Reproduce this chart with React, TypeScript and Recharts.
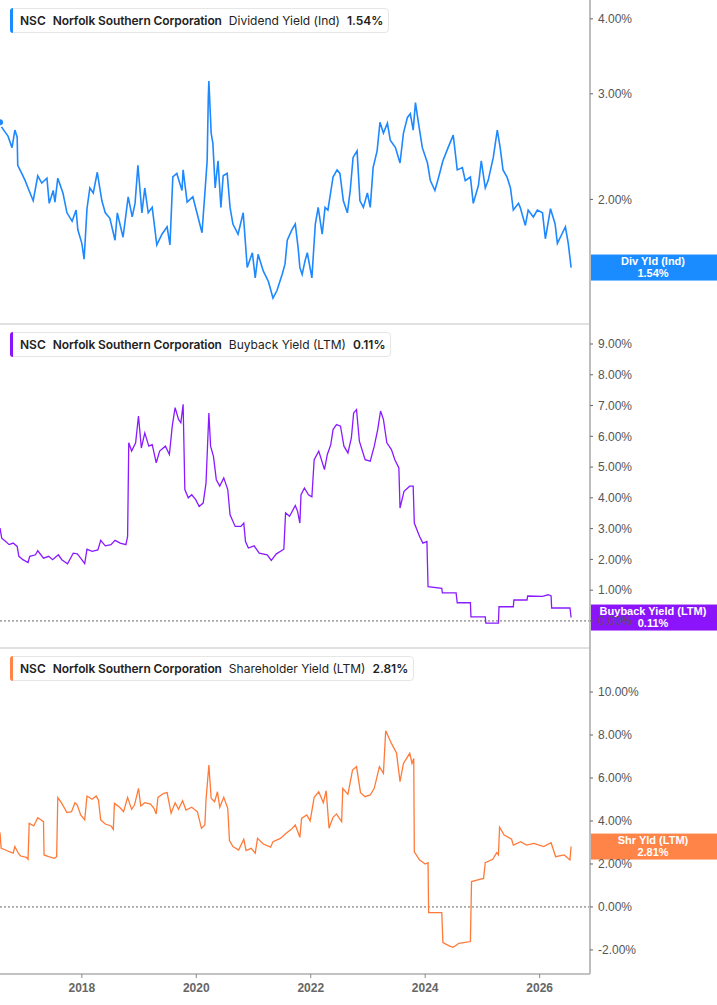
import React from "react"
import { LineChart, Line, XAxis, YAxis, ReferenceLine } from "recharts"

// dates are decimal years, values are percent
const divDates = [
  2016.57, 2016.6, 2016.66, 2016.71, 2016.78, 2016.83, 2016.87, 2016.88, 2016.95, 2017.01,
  2017.06, 2017.15, 2017.23, 2017.3, 2017.39, 2017.43, 2017.5, 2017.53, 2017.58, 2017.67,
  2017.74, 2017.83, 2017.9, 2017.93, 2018.0, 2018.04, 2018.09, 2018.14, 2018.2, 2018.27,
  2018.35, 2018.41, 2018.49, 2018.58, 2018.62, 2018.72, 2018.81, 2018.88, 2018.93, 2018.98,
  2019.05, 2019.1, 2019.16, 2019.23, 2019.31, 2019.4, 2019.49, 2019.54, 2019.59, 2019.66,
  2019.75, 2019.77, 2019.84, 2019.94, 2020.03, 2020.1, 2020.15, 2020.19, 2020.21, 2020.22,
  2020.26, 2020.29, 2020.33, 2020.38, 2020.43, 2020.47, 2020.54, 2020.59, 2020.64, 2020.73,
  2020.82, 2020.89, 2020.98, 2021.03, 2021.08, 2021.17, 2021.26, 2021.34, 2021.41, 2021.5,
  2021.55, 2021.59, 2021.67, 2021.73, 2021.78, 2021.81, 2021.85, 2021.9, 2021.94, 2022.02,
  2022.08, 2022.13, 2022.2, 2022.25, 2022.3, 2022.39, 2022.46, 2022.51, 2022.57, 2022.64,
  2022.69, 2022.74, 2022.81, 2022.86, 2022.92, 2022.99, 2023.04, 2023.09, 2023.16, 2023.21,
  2023.27, 2023.34, 2023.39, 2023.48, 2023.56, 2023.62, 2023.69, 2023.74, 2023.79, 2023.83,
  2023.88, 2023.95, 2024.04, 2024.09, 2024.17, 2024.23, 2024.31, 2024.4, 2024.49, 2024.56,
  2024.65, 2024.7, 2024.79, 2024.84, 2024.93, 2024.98, 2025.05, 2025.1, 2025.19, 2025.26,
  2025.31, 2025.36, 2025.43, 2025.49, 2025.54, 2025.63, 2025.66, 2025.75, 2025.8, 2025.89,
  2025.96, 2026.05, 2026.1, 2026.19, 2026.27, 2026.31, 2026.4, 2026.45, 2026.5, 2026.55,
]
const divYield = [
  2.69, 2.64, 2.59, 2.55, 2.44, 2.61, 2.54, 2.28, 2.21, 2.15,
  2.09, 1.99, 2.19, 2.13, 2.17, 1.97, 2.07, 1.98, 2.17, 2.05,
  1.9, 1.84, 1.92, 1.78, 1.69, 1.59, 1.93, 2.09, 2.05, 2.22,
  1.99, 1.9, 1.86, 1.71, 1.9, 1.73, 2.02, 1.87, 1.97, 2.28,
  1.9, 2.09, 1.9, 1.94, 1.68, 1.75, 1.8, 1.68, 2.18, 2.21,
  2.07, 2.24, 1.98, 2.02, 1.87, 1.76, 2.05, 2.32, 2.96, 3.15,
  2.58, 2.48, 2.09, 2.32, 1.94, 2.19, 2.21, 1.94, 1.82, 1.75,
  1.9, 1.54, 1.63, 1.48, 1.62, 1.52, 1.46, 1.37, 1.41, 1.5,
  1.56, 1.71, 1.78, 1.82, 1.66, 1.54, 1.5, 1.58, 1.63, 1.48,
  1.82, 1.94, 1.75, 1.94, 1.92, 2.18, 2.24, 2.21, 1.99, 1.9,
  2.07, 2.35, 2.41, 1.99, 1.94, 2.05, 1.94, 2.26, 2.41, 2.69,
  2.58, 2.68, 2.51, 2.44, 2.3, 2.58, 2.74, 2.78, 2.61, 2.9,
  2.69, 2.44, 2.3, 2.15, 2.07, 2.17, 2.32, 2.44, 2.56, 2.24,
  2.26, 2.15, 2.18, 1.97, 2.11, 2.32, 2.09, 2.15, 2.35, 2.61,
  2.44, 2.24, 2.18, 2.09, 1.92, 1.97, 1.94, 1.81, 1.92, 1.87,
  1.92, 1.9, 1.72, 1.93, 1.82, 1.69, 1.76, 1.8, 1.69, 1.54,
]

const buybackDates = [
  2016.57, 2016.6, 2016.67, 2016.73, 2016.8, 2016.87, 2016.9, 2016.97, 2017.06, 2017.09,
  2017.19, 2017.23, 2017.33, 2017.42, 2017.49, 2017.59, 2017.65, 2017.75, 2017.85, 2017.92,
  2017.98, 2018.05, 2018.09, 2018.18, 2018.28, 2018.33, 2018.41, 2018.51, 2018.58, 2018.67,
  2018.77, 2018.8, 2018.82, 2018.87, 2018.94, 2018.99, 2019.04, 2019.1, 2019.17, 2019.23,
  2019.3, 2019.36, 2019.46, 2019.53, 2019.58, 2019.63, 2019.69, 2019.73, 2019.77, 2019.8,
  2019.86, 2019.92, 2019.99, 2020.05, 2020.12, 2020.17, 2020.22, 2020.25, 2020.3, 2020.35,
  2020.41, 2020.48, 2020.55, 2020.59, 2020.68, 2020.78, 2020.83, 2020.86, 2020.91, 2021.01,
  2021.1, 2021.24, 2021.31, 2021.4, 2021.53, 2021.56, 2021.63, 2021.73, 2021.77, 2021.81,
  2021.83, 2021.89, 2021.96, 2022.02, 2022.06, 2022.14, 2022.24, 2022.29, 2022.35, 2022.39,
  2022.45, 2022.52, 2022.58, 2022.65, 2022.71, 2022.75, 2022.8, 2022.85, 2022.95, 2023.04,
  2023.11, 2023.17, 2023.22, 2023.27, 2023.33, 2023.41, 2023.47, 2023.54, 2023.56, 2023.63,
  2023.73, 2023.79, 2023.81, 2023.9, 2023.96, 2024.03, 2024.05, 2024.29, 2024.3, 2024.54,
  2024.56, 2024.79, 2024.8, 2025.05, 2025.06, 2025.28, 2025.29, 2025.54, 2025.55, 2025.78,
  2025.79, 2026.05, 2026.15, 2026.2, 2026.21, 2026.53, 2026.55,
]
const buybackYield = [
  3.02, 2.69, 2.58, 2.48, 2.53, 2.42, 2.1, 1.99, 1.9, 2.1,
  2.15, 2.28, 2.04, 2.1, 1.99, 2.15, 1.99, 1.86, 2.2, 2.18,
  2.04, 1.86, 2.33, 2.26, 2.31, 2.62, 2.44, 2.48, 2.62, 2.53,
  2.48, 2.75, 5.79, 5.52, 5.79, 6.66, 5.62, 6.11, 5.68, 5.73,
  5.14, 5.52, 5.68, 5.41, 6.33, 6.93, 6.55, 6.44, 7.04, 4.27,
  4.0, 4.1, 3.94, 3.72, 3.83, 4.48, 6.76, 5.68, 5.35, 4.59,
  4.38, 4.65, 4.27, 3.45, 3.07, 3.07, 3.18, 2.58, 2.37, 2.44,
  2.2, 2.15, 1.97, 2.18, 2.33, 3.51, 3.4, 3.75, 3.56, 3.18,
  4.1, 4.32, 4.1, 4.03, 5.24, 5.52, 4.92, 5.41, 5.73, 6.22,
  6.38, 6.33, 5.68, 5.46, 5.95, 6.76, 6.87, 5.84, 5.24, 5.19,
  5.68, 6.22, 6.82, 6.55, 5.79, 5.57, 5.24, 4.97, 3.67, 4.21,
  4.38, 4.38, 3.18, 2.75, 2.53, 2.58, 1.11, 1.06, 0.91, 0.91,
  0.59, 0.59, 0.13, 0.13, -0.07, -0.07, 0.46, 0.46, 0.68, 0.68,
  0.81, 0.8, 0.85, 0.81, 0.42, 0.42, 0.11,
]

const shareholderDates = [
  2016.57, 2016.59, 2016.67, 2016.73, 2016.8, 2016.83, 2016.89, 2016.93, 2017.03, 2017.06,
  2017.08, 2017.16, 2017.23, 2017.29, 2017.33, 2017.34, 2017.42, 2017.52, 2017.56, 2017.58,
  2017.65, 2017.74, 2017.82, 2017.88, 2017.92, 2017.98, 2018.05, 2018.09, 2018.18, 2018.25,
  2018.29, 2018.33, 2018.41, 2018.51, 2018.55, 2018.57, 2018.66, 2018.73, 2018.8, 2018.87,
  2018.92, 2018.99, 2019.03, 2019.1, 2019.2, 2019.26, 2019.3, 2019.33, 2019.43, 2019.49,
  2019.56, 2019.63, 2019.69, 2019.76, 2019.82, 2019.92, 2020.02, 2020.09, 2020.15, 2020.17,
  2020.22, 2020.26, 2020.32, 2020.37, 2020.41, 2020.48, 2020.55, 2020.58, 2020.64, 2020.74,
  2020.83, 2020.87, 2020.96, 2021.03, 2021.07, 2021.17, 2021.3, 2021.34, 2021.47, 2021.57,
  2021.66, 2021.73, 2021.81, 2021.84, 2021.93, 2021.99, 2022.06, 2022.14, 2022.22, 2022.27,
  2022.32, 2022.39, 2022.45, 2022.54, 2022.56, 2022.65, 2022.73, 2022.8, 2022.87, 2022.95,
  2023.04, 2023.11, 2023.2, 2023.27, 2023.31, 2023.41, 2023.5, 2023.56, 2023.62, 2023.73,
  2023.77, 2023.8, 2023.81, 2023.9, 2024.0, 2024.05, 2024.06, 2024.29, 2024.31, 2024.42,
  2024.49, 2024.59, 2024.79, 2024.81, 2024.92, 2025.02, 2025.05, 2025.18, 2025.25, 2025.28,
  2025.3, 2025.38, 2025.51, 2025.54, 2025.67, 2025.77, 2025.9, 2026.07, 2026.2, 2026.28,
  2026.43, 2026.53, 2026.55,
]
const shareholderYield = [
  3.46, 2.73, 2.65, 2.57, 2.5, 2.81, 2.5, 2.37, 2.31, 2.22,
  3.89, 3.77, 4.15, 4.05, 3.97, 2.42, 2.34, 2.26, 2.34, 5.09,
  4.82, 4.39, 4.43, 4.85, 4.74, 4.28, 4.05, 5.16, 5.01, 5.16,
  4.98, 4.05, 3.86, 3.77, 3.61, 4.82, 4.64, 4.43, 5.1, 4.54,
  4.74, 5.52, 4.7, 4.85, 4.79, 4.59, 4.33, 5.1, 5.29, 5.32,
  4.36, 4.85, 4.54, 4.94, 4.51, 4.64, 4.43, 3.66, 3.81, 4.98,
  6.6, 5.06, 4.9, 5.36, 4.64, 5.1, 4.59, 3.09, 2.81, 2.65,
  3.15, 2.62, 2.73, 2.5, 3.19, 2.93, 2.78, 3.04, 3.19, 3.43,
  3.61, 3.81, 3.24, 4.12, 4.28, 4.01, 5.1, 5.36, 4.85, 5.41,
  3.66, 4.17, 4.33, 3.97, 5.52, 5.24, 6.37, 6.53, 5.32, 5.13,
  5.21, 5.52, 6.53, 6.22, 8.2, 7.61, 7.15, 5.83, 6.68, 7.15,
  6.68, 6.91, 2.57, 2.19, 2.0, 2.06, -0.26, -0.26, -1.66, -1.81,
  -1.88, -1.69, -1.61, 1.18, 1.26, 1.33, 2.06, 2.22, 2.53, 2.42,
  3.71, 3.35, 3.15, 2.88, 3.04, 2.88, 2.96, 2.81, 2.99, 2.34,
  2.42, 2.19, 2.81,
]

const yearTicks = [2018, 2020, 2022, 2024, 2026]
const divTicks = [2, 3, 4]
const buybackTicks = [0, 1, 2, 3, 4, 5, 6, 7, 8, 9]
const shareholderTicks = [-2, 0, 2, 4, 6, 8, 10]

const X_DOMAIN: [number, number] = [2016.57, 2026.88]
const AXIS_FONT = "'Liberation Sans', Arial, sans-serif"

const pct = (v: number) => `${Number(v).toFixed(2)}%`

function toRows(dates: number[], values: number[]) {
  return dates.map((t, i) => ({ t, v: values[i] }))
}

function PriceTag({ viewBox, color, title, value }: any) {
  if (!viewBox) return null
  const x = viewBox.x + viewBox.width
  const y = viewBox.y
  return (
    <g>
      <rect x={x} y={y - 13} width={127} height={26} fill={color} />
      <text x={x + 63} y={y - 3} textAnchor="middle" fill="#fff" fontSize={11} fontWeight="bold" fontFamily={AXIS_FONT}>
        {title}
      </text>
      <text x={x + 63} y={y + 9} textAnchor="middle" fill="#fff" fontSize={11} fontWeight="bold" fontFamily={AXIS_FONT}>
        {value}
      </text>
    </g>
  )
}

interface PanelProps {
  top: number
  height: number
  rows: { t: number; v: number }[]
  color: string
  tagColor: string
  lineWidth: number
  domain: [number, number]
  ticks: number[]
  log?: boolean
  bottomAxis?: boolean
  zeroLine?: boolean
  tagTitle: string
  metric: string
}

function Panel({ top, height, rows, color, tagColor, lineWidth, domain, ticks, log, bottomAxis, zeroLine, tagTitle, metric }: PanelProps) {
  const last = rows[rows.length - 1].v
  return (
    <div style={{ position: "absolute", left: 0, top, width: 717, height }}>
      <LineChart width={717} height={height} data={rows} margin={{ top: 0, right: 0, bottom: 0, left: 0 }}>
        <XAxis
          dataKey="t"
          type="number"
          domain={X_DOMAIN}
          ticks={yearTicks}
          allowDataOverflow
          height={bottomAxis ? 31 : 1}
          axisLine={{ stroke: "#c2c2c2", strokeWidth: bottomAxis ? 2 : 1 }}
          tickLine={bottomAxis ? { stroke: "#888" } : false}
          tick={bottomAxis ? { fill: "#666", fontSize: 12, fontWeight: "bold", fontFamily: AXIS_FONT } : false}
          tickSize={4}
          tickMargin={5}
        />
        <YAxis
          orientation="right"
          width={127}
          scale={log ? "log" : "linear"}
          domain={domain}
          ticks={ticks}
          allowDataOverflow
          interval={0}
          tickFormatter={pct}
          axisLine={{ stroke: "#bdbdbd", strokeWidth: 2 }}
          tickLine={{ stroke: "#666" }}
          tickSize={3}
          tickMargin={5}
          tick={{ fill: "#555", fontSize: 12, fontFamily: AXIS_FONT }}
        />
        {zeroLine ? <ReferenceLine y={0} stroke="#666" strokeDasharray="2 2" /> : null}
        <Line
          type="linear"
          dataKey="v"
          stroke={color}
          strokeWidth={lineWidth}
          dot={false}
          isAnimationActive={false}
        />
        <ReferenceLine
          y={last}
          stroke="none"
          label={(p: any) => <PriceTag viewBox={p.viewBox} color={tagColor} title={tagTitle} value={pct(last)} />}
        />
      </LineChart>
      <div
        style={{
          position: "absolute",
          left: 10,
          top: 8,
          height: 23,
          display: "flex",
          alignItems: "center",
          padding: "0 5px 0 9px",
          background: "#fff",
          border: "1px solid #e6e6e6",
          borderRadius: 4,
          fontFamily: "Inter, 'Noto Sans', sans-serif",
          fontSize: 12,
          color: "#222",
          whiteSpace: "nowrap",
        }}
      >
        <span
          style={{
            position: "absolute",
            left: -1,
            top: -1,
            bottom: -1,
            width: 3,
            background: tagColor,
            borderRadius: "4px 0 0 4px",
          }}
        />
        <span style={{ fontWeight: 600, marginRight: 7 }}>NSC</span>
        <span style={{ fontWeight: 600, marginRight: 7, letterSpacing: -0.1 }}>Norfolk Southern Corporation</span>
        <span style={{ fontWeight: 400, marginRight: 7 }}>{metric}</span>
        <span style={{ fontWeight: 600 }}>{pct(last)}</span>
      </div>
    </div>
  )
}

export default function App() {
  return (
    <div style={{ position: "absolute", left: 0, top: 0, width: 717, height: 1005, background: "#fff" }}>
      <Panel
        top={0}
        height={325}
        rows={toRows(divDates, divYield)}
        color="#1e88ff"
        tagColor="#1a8cff"
        lineWidth={1.6}
        domain={[1.24, 4.3]}
        ticks={divTicks}
        log
        tagTitle="Div Yld (Ind)"
        metric="Dividend Yield (Ind)"
      />
      <Panel
        top={324}
        height={325}
        rows={toRows(buybackDates, buybackYield)}
        color="#8a1aff"
        tagColor="#8c14fa"
        lineWidth={1.3}
        domain={[-0.88, 9.65]}
        ticks={buybackTicks}
        zeroLine
        tagTitle="Buyback Yield (LTM)"
        metric="Buyback Yield (LTM)"
      />
      <Panel
        top={648}
        height={357}
        rows={toRows(shareholderDates, shareholderYield)}
        color="#ff7a38"
        tagColor="#ff8448"
        lineWidth={1.3}
        domain={[-3.12, 12.05]}
        ticks={shareholderTicks}
        bottomAxis
        zeroLine
        tagTitle="Shr Yld (LTM)"
        metric="Shareholder Yield (LTM)"
      />
    </div>
  )
}
